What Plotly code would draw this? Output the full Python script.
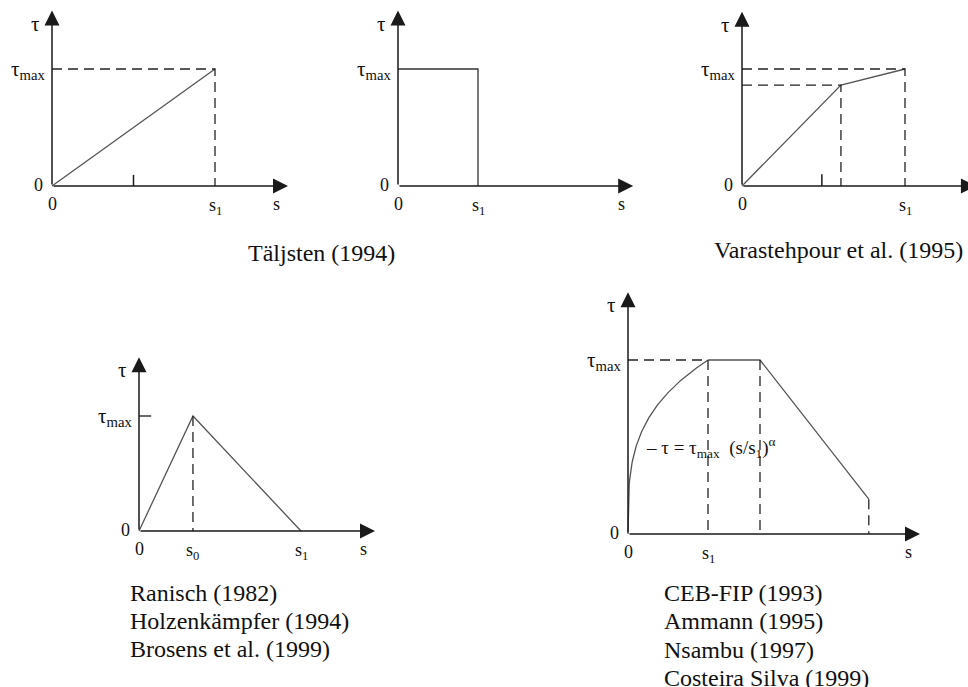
import numpy as np
import plotly.graph_objects as go

W, H = 968, 687
FONT = "Liberation Serif"
AXIS_COL = "#1a1a1a"
LINE_COL = "#555555"
TXT_COL = "#111111"

# ---- model data (s in units of s1, tau in units of tau_max) ----
taljsten_s = [0.0, 1.0]
taljsten_tau = [0.0, 1.0]
taljsten_tick_s = 0.5

rect_s = [0.0, 1.0, 1.0]
rect_tau = [1.0, 1.0, 0.0]

varast_s = [0.0, 0.607, 1.0]
varast_tau = [0.0, 0.863, 1.0]
varast_tick_s = 0.49

ranisch_s = [0.0, 0.333, 1.0]
ranisch_tau = [0.0, 1.0, 0.0]

ceb_alpha = 0.3
ceb_s = [1.0, 1.65, 3.01]
ceb_tau = [1.0, 1.0, 0.2]

titles_top = ["Täljsten (1994)", "Varastehpour et al. (1995)"]
titles_tri = ["Ranisch (1982)", "Holzenkämpfer (1994)", "Brosens et al. (1999)"]
titles_ceb = ["CEB-FIP (1993)", "Ammann (1995)", "Nsambu (1997)", "Costeira Silva (1999)"]

fig = go.Figure()
layout = dict(width=W, height=H, autosize=False,
              margin=dict(l=0, r=0, t=0, b=0),
              paper_bgcolor="white", plot_bgcolor="rgba(0,0,0,0)",
              showlegend=False)
annotations = []


def panel(idx, origin, unit, box):
    """Place a hidden axis pair so that data (0,0) sits at origin px and
    one data unit spans unit px; box is the drawing area in px."""
    ox, oy = origin
    ux, uy = unit
    left, top, right, bottom = box
    layout[f"xaxis{idx}"] = dict(domain=[left / W, right / W],
                                 range=[(left - ox) / ux, (right - ox) / ux],
                                 visible=False, anchor=f"y{idx}", fixedrange=True)
    layout[f"yaxis{idx}"] = dict(domain=[1 - bottom / H, 1 - top / H],
                                 range=[(oy - bottom) / uy, (oy - top) / uy],
                                 visible=False, anchor=f"x{idx}", fixedrange=True)


def line(idx, xs, ys, dashed=False, color=LINE_COL, width=1.3):
    fig.add_trace(go.Scatter(x=xs, y=ys, mode="lines", xaxis=f"x{idx}", yaxis=f"y{idx}",
                             line=dict(color=color, width=width,
                                       dash="10px,6px" if dashed else "solid"),
                             hoverinfo="skip"))


def arrow_axes(idx, s_end, tau_end):
    for x, y in ((s_end, 0), (0, tau_end)):
        annotations.append(dict(x=x, y=y, ax=0, ay=0, xref=f"x{idx}", yref=f"y{idx}",
                                axref=f"x{idx}", ayref=f"y{idx}", text="", showarrow=True,
                                arrowhead=2, arrowsize=2, arrowwidth=1.5,
                                arrowcolor=AXIS_COL, standoff=0, startstandoff=0))


def label(idx, x, y, text, dx=0, dy=0, size=18, xanchor="center", yanchor="middle"):
    annotations.append(dict(x=x, y=y, xref=f"x{idx}", yref=f"y{idx}", text=text,
                            showarrow=False, xshift=dx, yshift=dy,
                            xanchor=xanchor, yanchor=yanchor,
                            font=dict(family=FONT, size=size, color=TXT_COL)))


def paper_text(px, py, text, xanchor="center", size=24):
    annotations.append(dict(x=px / W, y=1 - py / H, xref="paper", yref="paper",
                            text=text, showarrow=False, xanchor=xanchor, yanchor="middle",
                            font=dict(family=FONT, size=size, color=TXT_COL)))


def frame_labels(idx, s_end, tau_top=1.0, s_ticks=(("s<sub>1</sub>", 1.0),)):
    label(idx, 0, tau_end_map[idx], "τ", dx=-17, dy=-13, size=21)
    label(idx, 0, tau_top, "τ<sub>max</sub>", dx=-5, dy=-1, size=21, xanchor="right")
    label(idx, 0, 0, "0", dx=-14, dy=1)
    label(idx, 0, 0, "0", dy=-18)
    for txt, sv in s_ticks:
        label(idx, sv, 0, txt, dy=-20)
    label(idx, s_end, 0, "s", dx=-12, dy=-18)


tau_end_map = {}

# ---- panel 1: linear ascending (Täljsten) ----
panel(1, (52, 186), (163, 117), (0, 0, 300, 230))
tau_end_map[1] = 1.50
line(1, taljsten_s, taljsten_tau)
line(1, [0, 1, 1], [1, 1, 0], dashed=True, color="#222")
line(1, [taljsten_tick_s] * 2, [0, 0.095], color=AXIS_COL, width=1.5)
arrow_axes(1, 1.448, tau_end_map[1])
frame_labels(1, 1.448)

# ---- panel 2: rigid-plastic (Täljsten) ----
panel(2, (398, 186), (80, 117), (330, 0, 650, 230))
tau_end_map[2] = 1.50
line(2, rect_s, rect_tau, color="#333")
arrow_axes(2, 2.94, tau_end_map[2])
frame_labels(2, 2.94)

# ---- panel 3: bilinear ascending (Varastehpour) ----
panel(3, (742, 186), (163, 117), (680, 0, 968, 230))
tau_end_map[3] = 1.49
line(3, varast_s, varast_tau)
line(3, [0, varast_s[2], varast_s[2]], [1, 1, 0], dashed=True, color="#222")
line(3, [0, varast_s[1], varast_s[1]], [varast_tau[1], varast_tau[1], 0], dashed=True, color="#222")
line(3, [varast_tick_s] * 2, [0, 0.1], color=AXIS_COL, width=1.5)
arrow_axes(3, 1.435, tau_end_map[3])
frame_labels(3, 1.435)

# ---- panel 4: bilinear softening (Ranisch, Holzenkämpfer, Brosens) ----
panel(4, (139, 531), (162, 115), (60, 340, 400, 570))
tau_end_map[4] = 1.51
line(4, ranisch_s, ranisch_tau)
line(4, [ranisch_s[1]] * 2, [1, 0], dashed=True, color="#222")
line(4, [0, 0.075], [1, 1], color=AXIS_COL, width=1.3)
arrow_axes(4, 1.457, tau_end_map[4])
frame_labels(4, 1.457, s_ticks=(("s<sub>0</sub>", ranisch_s[1]), ("s<sub>1</sub>", 1.0)))

# ---- panel 5: CEB-FIP type law ----
panel(5, (628, 534), (80, 174), (570, 280, 940, 570))
tau_end_map[5] = 1.39
s_rise = np.linspace(0, 1, 200)
line(5, s_rise, s_rise ** ceb_alpha)
line(5, ceb_s, ceb_tau)
line(5, [0, 1], [1, 1], dashed=True, color="#222")
for sv, tv in zip(ceb_s, ceb_tau):
    line(5, [sv, sv], [tv, 0], dashed=True, color="#222")
arrow_axes(5, 3.65, tau_end_map[5])
frame_labels(5, 3.65)
label(5, 0.2, 0.5, "– τ = τ<sub>max</sub>  (s/s<sub>1</sub>)<sup>α</sup>", size=19,
      xanchor="left")

# ---- captions ----
paper_text(321, 253, titles_top[0])
paper_text(838, 250, titles_top[1])
for i, t in enumerate(titles_tri):
    paper_text(128, 593 + 28 * i, t, xanchor="left")
for i, t in enumerate(titles_ceb):
    paper_text(662, 593 + 28.3 * i, t, xanchor="left")

layout["annotations"] = annotations
fig.update_layout(**layout)
fig.write_html("out.html")
